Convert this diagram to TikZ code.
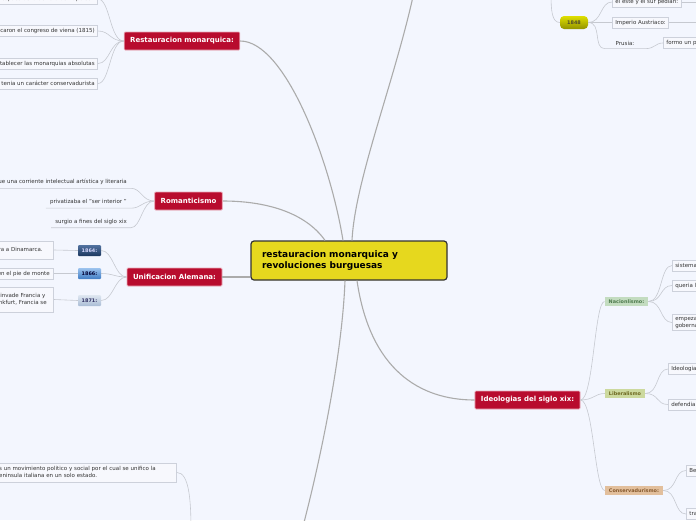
\documentclass[tikz,border=0pt]{standalone}
\usepackage{fontspec}
\setmainfont{DejaVu Sans}
\definecolor{bgcol}{HTML}{F3F6FE}
\definecolor{centrefill}{HTML}{E6D81E}
\definecolor{centreborder}{HTML}{333333}
\definecolor{topicred}{HTML}{B80C2E}
\definecolor{topicborder}{HTML}{E9A9B7}
\definecolor{leaffill}{HTML}{F7F8FD}
\definecolor{leafborder}{HTML}{CDD1DB}
\definecolor{leaftext}{HTML}{333333}
\definecolor{mainlinegray}{HTML}{ABABAB}
\definecolor{sublinegray}{HTML}{C6C9D0}
\definecolor{yearAtop}{HTML}{5273A0}
\definecolor{yearAbot}{HTML}{1B365E}
\definecolor{yearBtop}{HTML}{9CC3EE}
\definecolor{yearBbot}{HTML}{3F7CC4}
\definecolor{yearCtop}{HTML}{DFE7F1}
\definecolor{yearCbot}{HTML}{A9BCD5}
\definecolor{nacifill}{HTML}{C3DCC0}
\definecolor{libefill}{HTML}{CCD99E}
\definecolor{consfill}{HTML}{E2BF9C}
\newcommand\leaffont{\fontsize{5.5}{7}\selectfont}
\newcommand\subfont{\fontsize{4.9}{6}\selectfont\bfseries}
\newcommand\topicfont{\fontsize{7}{8.4}\selectfont\bfseries}
\newcommand\centralfont{\fontsize{9}{11}\selectfont\bfseries}
\begin{document}
\begin{tikzpicture}[x=1pt, y=-1pt,
    central/.style={rectangle, draw=centreborder, fill=centrefill, line width=1.2pt, rounded corners=3pt, minimum width=196pt, minimum height=39pt, text width=174pt, align=left, font=\centralfont},
    topic/.style={rectangle, draw=topicborder, fill=topicred, line width=0.8pt, rounded corners=1pt, minimum height=18pt, inner xsep=6pt, text=white, font=\topicfont},
    leaf/.style={rectangle, draw=leafborder, fill=leaffill, line width=0.7pt, minimum height=11pt, inner xsep=3pt, inner ysep=1.5pt, align=left, text=leaftext, font=\leaffont},
    floating/.style={rectangle, minimum height=10pt, inner xsep=4pt, text=leaftext, font=\leaffont},
    yearbox/.style={rectangle, rounded corners=1pt, minimum width=23pt, minimum height=11pt, inner sep=0pt, font=\subfont},
    subtopic/.style={rectangle, minimum height=9pt, inner xsep=4pt, inner ysep=0pt, font=\subfont},
    mainline/.style={draw=mainlinegray, line width=1.1pt},
    subline/.style={draw=sublinegray, line width=0.6pt}
]
    \useasboundingbox (0,0) rectangle (696,520);
    \clip (0,0) rectangle (696,520);
    \fill[bgcol] (0,0) rectangle (696,520);

    % main topics
    \node [central] (centre) at (349,260.5) {restauracion monarquica y\\revoluciones burguesas};
    \node [topic] (resta) at (182,41) {Restauracion monarquica:};
    \node [topic] (roman) at (188.5,201) {Romanticismo};
    \node [topic] (alem) at (174.5,277) {Unificacion Alemana:};
    \node [topic] (ideo) at (527.5,400) {Ideologias del siglo xix:};
    \coordinate (revol) at (414,-8);
    \coordinate (italia) at (302,530);

    % restauracion
    \node [leaf, anchor=east] (r1) at (98,-1) {Se produjo despues de la derrota de Napoleon};
    \node [leaf, anchor=east] (r2) at (98,31) {Las potencias convocaron el congreso de viena (1815)};
    \node [leaf, anchor=east] (r3) at (98,63.5) {Buscaba restablecer las monarquias absolutas};
    \node [leaf, anchor=east] (r4) at (98,83.5) {Este movimiento tenia un carácter conservadurista};

    % romanticismo
    \node [floating, anchor=east] (t1) at (131,182) {Fue una corriente intelectual artística y literaria};
    \node [floating, anchor=east] (t2) at (131,202) {privatizaba el "ser interior "};
    \node [floating, anchor=east] (t3) at (131,221.5) {surgio a fines del siglo xix};

    % unificacion alemana
    \node [yearbox, top color=yearAtop, bottom color=yearAbot, text=white!85!blue] (y64) at (89.5,250.5) {1864:};
    \node [yearbox, top color=yearBtop, bottom color=yearBbot, text=blue!20!black] (y66) at (89.5,273.5) {1866:};
    \node [yearbox, top color=yearCtop, bottom color=yearCbot, text=blue!25!black!80] (y71) at (89.5,300.5) {1871:};
    \node [leaf, anchor=east, minimum height=18pt, inner xsep=11pt] (a1) at (54,250) {Prusia y Austria le declaran la guerra a Dinamarca.};
    \node [leaf, anchor=east, inner xsep=4pt] (a2) at (54,273.5) {Prusia vence a Austria en el pie de monte};
    \node [leaf, anchor=east, minimum height=25pt, inner xsep=7pt] (a3) at (54,299.5) {Prusia invade Francia y\\en Frankfurt, Francia se};

    % italia
    \node [leaf, anchor=east, text width=178pt, minimum height=19pt] (itl) at (177,472.5) {Es un movimiento politico y social por el cual se unifico la\\peninsula italiana en un solo estado.};
    \coordinate (itlend) at (191,530);

    % 1848
    \coordinate (in1848) at (551,-6);
    \node [yearbox, rounded corners=4pt, minimum width=28pt, minimum height=13pt, top color=yellow!75!olive, bottom color=olive!85!yellow, text=olive!40!black] (y1848) at (574,22.5) {1848};
    \node [leaf, anchor=west] (este) at (612,2) {el este y el sur pedian:};
    \node [leaf, anchor=west] (austr) at (612,22.5) {Imperio Austriaco:};
    \node [floating, minimum width=40pt] (prusia) at (625,43) {Prusia:};
    \node [leaf, anchor=west] (formo) at (663,43) {formo un parlamento};
    \coordinate (estemore) at (700,2);
    \coordinate (austrmore) at (700,22.5);

    % ideologias
    \node [subtopic, fill=nacifill, text=green!25!black!70] (naci) at (626.5,301.5) {Nacionlismo:};
    \node [subtopic, fill=libefill, text=olive!70!black] (libe) at (625,393.5) {Liberalismo};
    \node [subtopic, fill=consfill, text=brown!70!black] (cons) at (634,490.5) {Conservadurismo:};
    \node [leaf, anchor=west] (sist) at (672,265.5) {sistema politico basado en la nacion};
    \node [leaf, anchor=west] (quer) at (672,285.5) {queria la unidad de la nacion};
    \node [leaf, anchor=west] (empe) at (672,322.5) {empezaron a pedir\\gobernarse a si mismos};
    \node [leaf, anchor=west] (ideol) at (668,369) {Ideologia que defiende la libertad};
    \node [leaf, anchor=west] (defe) at (668,404.5) {defendia los derechos del individuo};
    \node [leaf, anchor=west] (bene) at (686,470.5) {Beneficiaba a la nobleza};
    \node [leaf, anchor=west] (trad) at (686,514) {tradicion y orden};

    % main connectors
    \draw [mainline] ([xshift=3pt]centre.north) .. controls (355,180) and (395,80) .. (revol);
    \draw [mainline] (resta.east) .. controls (285,41) and (330,160) .. ([xshift=-6pt]centre.north);
    \draw [mainline] (roman.east) .. controls (265,201) and (305,212) .. ([xshift=-24pt]centre.north);
    \draw [mainline] (alem.east) -- (alem.east -| centre.west);
    \draw [mainline] ([xshift=8pt]centre.south) .. controls (370,370) and (420,400) .. (ideo.west);
    \draw [mainline] ([xshift=-4pt]centre.south) .. controls (342,360) and (318,470) .. (italia);

    % branches
    \foreach \n in {r1,r2,r3,r4}
        \draw [subline] (resta.west) .. controls +(-14,0) and +(12,0) .. (\n.east);
    \foreach \n in {t1,t2,t3}
        \draw [subline] (roman.west) .. controls +(-12,0) and +(10,0) .. (\n.south east) -- (\n.south west);
    \foreach \y/\a in {y64/a1,y66/a2,y71/a3} {
        \draw [subline] (alem.west) .. controls +(-12,0) and +(12,0) .. (\y.east);
        \draw [subline] (\y.west) -- (\a.east);
    }
    \draw [subline] (itl.east) .. controls +(12,0) and +(0,-30) .. (itlend);

    \draw [subline] (in1848) .. controls +(0,16) and +(-8,0) .. (y1848.west);
    \draw [subline] (y1848.east) .. controls +(14,0) and +(-12,0) .. (este.west);
    \draw [subline] (y1848.east) -- (austr.west);
    \draw [subline] (y1848.east) .. controls +(14,0) and +(-12,0) .. (prusia.south west) -- (prusia.south east) .. controls +(10,0) and +(-8,0) .. (formo.west);
    \draw [subline] (este.east) -- (estemore);
    \draw [subline] (austr.east) -- (austrmore);

    \foreach \n in {naci,libe,cons}
        \draw [subline] (ideo.east) .. controls +(13,0) and +(-10,0) .. (\n.west);
    \foreach \n in {sist,quer,empe}
        \draw [subline] (naci.east) .. controls +(14,0) and +(-12,0) .. (\n.west);
    \foreach \n in {ideol,defe}
        \draw [subline] (libe.east) .. controls +(14,0) and +(-12,0) .. (\n.west);
    \foreach \n in {bene,trad}
        \draw [subline] (cons.east) .. controls +(14,0) and +(-12,0) .. (\n.west);
\end{tikzpicture}
\end{document}
